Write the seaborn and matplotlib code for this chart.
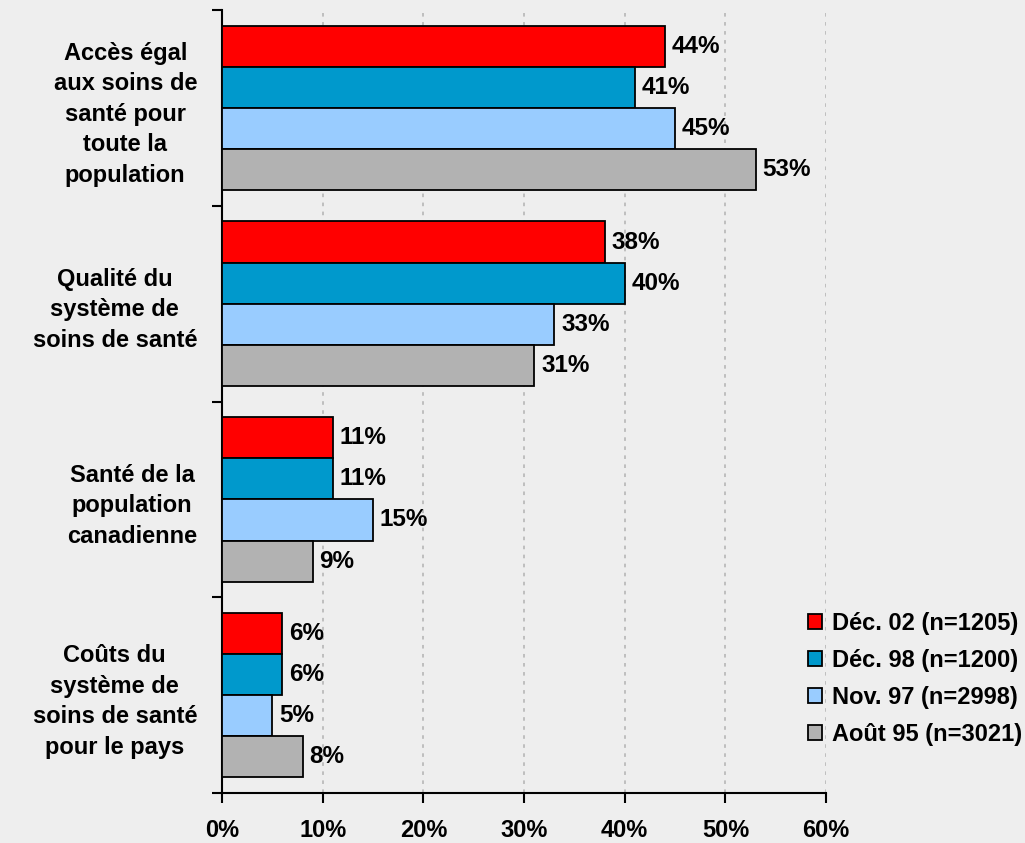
import matplotlib
matplotlib.use("Agg")
import matplotlib.pyplot as plt
from matplotlib.patches import Patch
from matplotlib.ticker import FixedLocator, PercentFormatter
import seaborn as sns
import pandas as pd

categories = [
    "Accès égal\naux soins de\nsanté pour\ntoute la\npopulation",
    "Qualité du\nsystème de\nsoins de santé",
    "Santé de la\npopulation\ncanadienne",
    "Coûts du\nsystème de\nsoins de santé\npour le pays",
]
series = ["Déc. 02 (n=1205)", "Déc. 98 (n=1200)", "Nov. 97 (n=2998)", "Août 95 (n=3021)"]
dec02 = [44, 38, 11, 6]
dec98 = [41, 40, 11, 6]
nov97 = [45, 33, 15, 5]
aug95 = [53, 31, 9, 8]
colors = ["#FF0000", "#0099CC", "#99CCFF", "#B2B2B2"]

rows = []
for s, vals in zip(series, [dec02, dec98, nov97, aug95]):
    for c, v in zip(categories, vals):
        rows.append({"cat": c, "series": s, "value": v})
df = pd.DataFrame(rows)

sns.set_style("white")
plt.rcParams["font.family"] = ["Liberation Sans", "DejaVu Sans"]
plt.rcParams["font.weight"] = "bold"
plt.rcParams["text.color"] = "black"
plt.rcParams["xtick.color"] = "black"
plt.rcParams["ytick.color"] = "black"
plt.rcParams["axes.labelcolor"] = "black"

fig = plt.figure(figsize=(10.25, 8.43), dpi=100)
fig.patch.set_facecolor("#EEEEEE")
ax = fig.add_axes([0.2166, 0.0593, 0.5893, 0.9287])
ax.set_facecolor("#EEEEEE")

sns.barplot(data=df, y="cat", x="value", hue="series", orient="h",
            order=categories, hue_order=series, palette=colors,
            width=0.84, edgecolor="black", linewidth=1.3, saturation=1,
            legend=False, ax=ax, zorder=3)

for cont in ax.containers:
    ax.bar_label(cont, labels=[f"{v:.0f}%" for v in cont.datavalues],
                 padding=5, fontsize=17.5, fontweight="bold", color="black")

ax.set_xlim(0, 60)
ax.set_ylim(3.5, -0.5)
ax.set_xticks(range(0, 61, 10))
ax.xaxis.set_major_formatter(PercentFormatter(decimals=0))
ax.grid(axis="x", color="#BBBBBB", linestyle=(0, (2, 3)), linewidth=1.3, zorder=0)
ax.set_axisbelow(True)

ax.set_yticks(range(len(categories)))
ax.set_yticklabels(categories, multialignment="center", fontsize=17,
                   fontweight="bold", linespacing=1.42)
ax.yaxis.set_minor_locator(FixedLocator([-0.5, 0.5, 1.5, 2.5, 3.5]))
ax.tick_params(axis="y", which="major", length=0, pad=18)
ax.tick_params(axis="y", which="minor", length=7, width=1.5, color="black", direction="out", left=True)
ax.tick_params(axis="x", which="major", length=7, width=1.5, color="black", direction="out",
               bottom=True, pad=12, labelsize=17)
for lab in ax.get_xticklabels():
    lab.set_fontweight("bold")

for side in ["top", "right"]:
    ax.spines[side].set_visible(False)
for side in ["left", "bottom"]:
    ax.spines[side].set_color("black")
    ax.spines[side].set_linewidth(1.5)

ax.set_xlabel("")
ax.set_ylabel("")

handles = [Patch(facecolor=c, edgecolor="black", linewidth=1.3) for c in colors]
fig.legend(handles, series, loc="lower right", bbox_to_anchor=(0.997, 0.115),
           frameon=False, prop={"weight": "bold", "size": 17},
           borderpad=0, borderaxespad=0,
           handlelength=0.6, handleheight=0.6, handletextpad=0.4, labelspacing=0.6)

fig.savefig("out.png", dpi=100, facecolor=fig.get_facecolor())
